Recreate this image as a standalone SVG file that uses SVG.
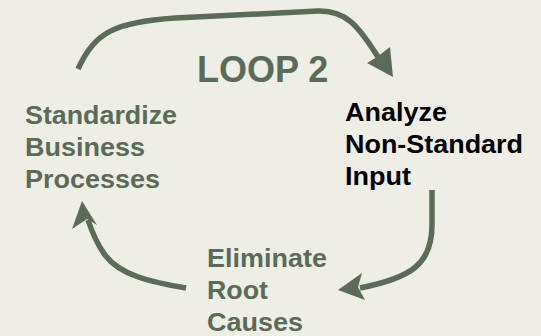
<svg xmlns="http://www.w3.org/2000/svg" width="541" height="336" viewBox="0 0 541 336">
  <style>
    .bg { fill: #eeeee6; }
    .lbl { font-family: "Liberation Sans", Arial, sans-serif; font-weight: bold; font-size: 25px; }
    .green { fill: #5a6b57; }
    .dark { fill: #000000; }
    .title { font-family: "Liberation Sans", Arial, sans-serif; font-weight: bold; font-size: 36px; fill: #5a6b57; }
    .flow { fill: none; stroke: #5a6b57; stroke-width: 5.5; stroke-linecap: butt; }
    .head { fill: #5a6b57; }
  </style>
  <rect class="bg" x="0" y="0" width="541" height="336"/>

  <text class="title" x="197" y="82">LOOP 2</text>

  <!-- labels use slightly widened glyphs -->
  <g id="standardize">
    <text class="lbl green" x="25" y="124" textLength="152" lengthAdjust="spacingAndGlyphs">Standardize</text>
    <text class="lbl green" x="25" y="156" textLength="120" lengthAdjust="spacingAndGlyphs">Business</text>
    <text class="lbl green" x="25" y="188" textLength="135" lengthAdjust="spacingAndGlyphs">Processes</text>
  </g>

  <g id="analyze">
    <text class="lbl dark" x="345" y="121" textLength="102" lengthAdjust="spacingAndGlyphs">Analyze</text>
    <text class="lbl dark" x="345" y="153" textLength="178" lengthAdjust="spacingAndGlyphs">Non-Standard</text>
    <text class="lbl dark" x="345" y="185" textLength="66" lengthAdjust="spacingAndGlyphs">Input</text>
  </g>

  <g id="eliminate">
    <text class="lbl green" x="207" y="267" textLength="120" lengthAdjust="spacingAndGlyphs">Eliminate</text>
    <text class="lbl green" x="207" y="299" textLength="61" lengthAdjust="spacingAndGlyphs">Root</text>
    <text class="lbl green" x="207" y="331" textLength="96" lengthAdjust="spacingAndGlyphs">Causes</text>
  </g>

  <g id="connectors">
    <!-- standardize -> analyze -->
    <path class="flow" d="M78,69 C95,32 115,22 175,18 L318,11 C345,10 358,25 378,57"/>
    <polygon class="head" points="393,77 367,63 377,57 390,47"/>
    <!-- analyze -> eliminate -->
    <path class="flow" d="M432,190 L432,225 C432,265 410,278 360,288"/>
    <polygon class="head" points="338,290 362,273 358,287 365,300"/>
    <!-- eliminate -> standardize -->
    <path class="flow" d="M186,288 C150,282 120,275 105,255 C97,244 92,232 88,220"/>
    <polygon class="head" points="82,201 97,225 87,219 72,229"/>
  </g>
</svg>
